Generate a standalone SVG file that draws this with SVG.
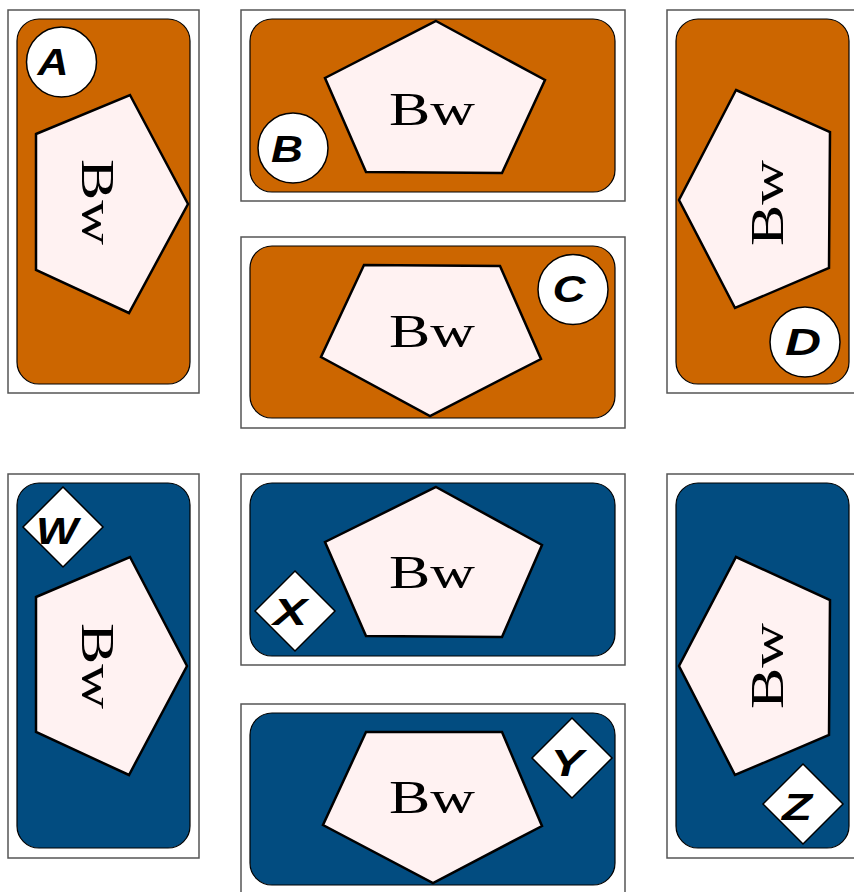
<svg xmlns="http://www.w3.org/2000/svg" width="854" height="892" viewBox="0 0 854 892">
<style>
.frame{fill:#fff;stroke:#555;stroke-width:1.5}
.card-o{fill:#CC6600;stroke:#000;stroke-width:1.2}
.card-b{fill:#024C80;stroke:#000;stroke-width:1.2}
.pent{fill:#FFF2F2;stroke:#000;stroke-width:2.5;stroke-linejoin:miter}
.badge{fill:#fff;stroke:#000;stroke-width:1.5}
.bw{font-family:"Liberation Serif","Times New Roman",serif;font-size:46px;fill:#000;text-anchor:middle}
.lbl{font-family:"Liberation Sans",Arial,sans-serif;font-size:36px;font-weight:bold;font-style:italic;fill:#000;text-anchor:middle}
</style>
<g id="card-A">
<rect class="frame" x="8" y="10" width="191" height="383"/>
<rect class="card-o" x="17" y="19" width="173" height="365" rx="22"/>
<polygon class="pent" points="36,134 130,95 188,204 129,313 36,270"/>
<text class="bw" transform="translate(82,202) rotate(90)" textLength="86" lengthAdjust="spacingAndGlyphs">Bw</text>
<circle class="badge" cx="61.5" cy="62" r="35"/>
<text class="lbl" x="53" y="75" textLength="31" lengthAdjust="spacingAndGlyphs">A</text>
</g>
<g id="card-B">
<rect class="frame" x="241" y="10" width="384" height="191"/>
<rect class="card-o" x="250" y="19" width="365" height="173" rx="22"/>
<polygon class="pent" points="436,21 545,80 502,173 366,172 325,78"/>
<text class="bw" x="432" y="125" textLength="86" lengthAdjust="spacingAndGlyphs">Bw</text>
<circle class="badge" cx="293" cy="148" r="35"/>
<text class="lbl" x="287" y="162" textLength="32" lengthAdjust="spacingAndGlyphs">B</text>
</g>
<g id="card-C">
<rect class="frame" x="241" y="237" width="384" height="191"/>
<rect class="card-o" x="250" y="246" width="365" height="172" rx="22"/>
<polygon class="pent" points="364,265 500,266 541,359 430,416 321,357"/>
<text class="bw" x="432" y="347" textLength="86" lengthAdjust="spacingAndGlyphs">Bw</text>
<circle class="badge" cx="573" cy="289.5" r="35"/>
<text class="lbl" x="569" y="302" textLength="33" lengthAdjust="spacingAndGlyphs">C</text>
</g>
<g id="card-D">
<rect class="frame" x="667" y="10" width="200" height="383"/>
<rect class="card-o" x="676" y="19" width="173" height="365" rx="22"/>
<polygon class="pent" points="736,90 830,132 829,268 735,308 679,200"/>
<text class="bw" transform="translate(783,203) rotate(-90)" textLength="86" lengthAdjust="spacingAndGlyphs">Bw</text>
<circle class="badge" cx="805" cy="342" r="35"/>
<text class="lbl" x="803" y="355" textLength="36" lengthAdjust="spacingAndGlyphs">D</text>
</g>
<g id="card-W">
<rect class="frame" x="8" y="474" width="191" height="384"/>
<rect class="card-b" x="17" y="483" width="173" height="365" rx="22"/>
<polygon class="pent" points="36,597 130,557 187,666 129,775 36,732"/>
<text class="bw" transform="translate(82,666) rotate(90)" textLength="86" lengthAdjust="spacingAndGlyphs">Bw</text>
<polygon class="badge" points="63,487 103,527 63,567 23,527"/>
<text class="lbl" x="57" y="544" textLength="42" lengthAdjust="spacingAndGlyphs">W</text>
</g>
<g id="card-X">
<rect class="frame" x="241" y="474" width="384" height="191"/>
<rect class="card-b" x="250" y="483" width="365" height="173" rx="22"/>
<polygon class="pent" points="436,487 542,545 502,637 366,636 325,542"/>
<text class="bw" x="432" y="588" textLength="86" lengthAdjust="spacingAndGlyphs">Bw</text>
<polygon class="badge" points="295,571 335,611 295,651 255,611"/>
<text class="lbl" x="290" y="625" textLength="34" lengthAdjust="spacingAndGlyphs">X</text>
</g>
<g id="card-Y">
<rect class="frame" x="241" y="704" width="384" height="192"/>
<rect class="card-b" x="250" y="713" width="365" height="172" rx="22"/>
<polygon class="pent" points="366,732 502,732 542,826 433,883 323,825"/>
<text class="bw" x="432" y="813" textLength="86" lengthAdjust="spacingAndGlyphs">Bw</text>
<polygon class="badge" points="572,718 612,758 572,798 532,758"/>
<text class="lbl" x="567" y="776" textLength="33" lengthAdjust="spacingAndGlyphs">Y</text>
</g>
<g id="card-Z">
<rect class="frame" x="667" y="474" width="200" height="384"/>
<rect class="card-b" x="676" y="483" width="173" height="365" rx="22"/>
<polygon class="pent" points="736,557 830,600 829,735 735,775 679,666"/>
<text class="bw" transform="translate(783,666) rotate(-90)" textLength="86" lengthAdjust="spacingAndGlyphs">Bw</text>
<polygon class="badge" points="803,764 843,804 803,844 763,804"/>
<text class="lbl" x="797" y="820" textLength="30" lengthAdjust="spacingAndGlyphs">Z</text>
</g>
<g id="connectors"/>
</svg>
